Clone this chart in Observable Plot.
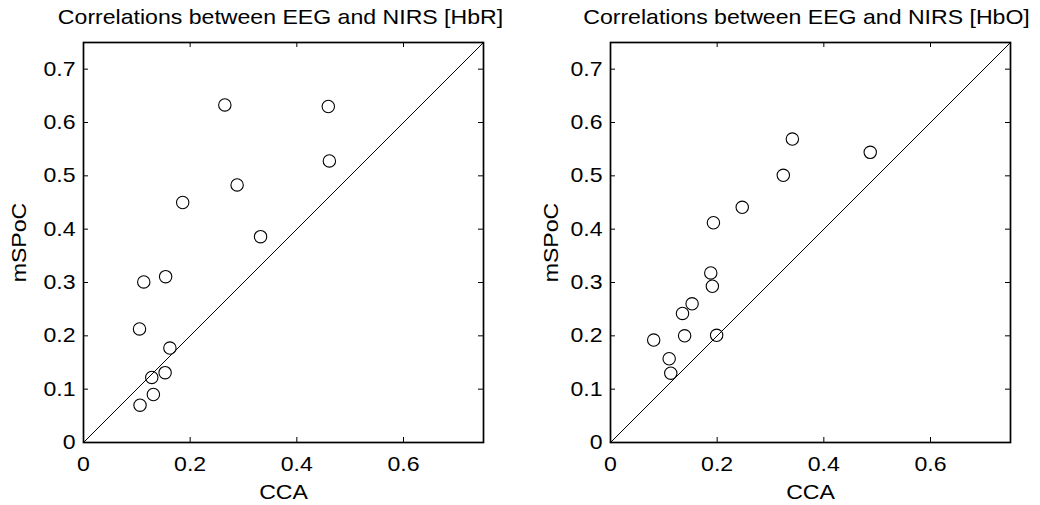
<!DOCTYPE html>
<html>
<head>
<meta charset="utf-8">
<script src="https://cdn.jsdelivr.net/npm/d3@7"></script>
<script src="https://cdn.jsdelivr.net/npm/@observablehq/plot@0.6"></script>
<style>
  html, body { margin: 0; padding: 0; background: #fff; }
  #wrap { display: flex; width: 1040px; height: 505px; }
</style>
</head>
<body>
<div id="wrap"></div>
<script>
// ---- data ----
const titles = ["Correlations between EEG and NIRS [HbR]", "Correlations between EEG and NIRS [HbO]"];
const xLabel = "CCA";
const yLabel = "mSPoC";
const xTicks = [0, 0.2, 0.4, 0.6];
const yTicks = [0, 0.1, 0.2, 0.3, 0.4, 0.5, 0.6, 0.7];
const axisDomain = [0, 0.75];
const diagonal = [0, 0.75];

const hbrCCA   = [0.265, 0.459, 0.461, 0.288, 0.186, 0.332, 0.113, 0.154, 0.105, 0.162, 0.128, 0.153, 0.131, 0.106];
const hbrMSPoC = [0.633, 0.630, 0.528, 0.483, 0.450, 0.386, 0.301, 0.311, 0.213, 0.177, 0.122, 0.131, 0.090, 0.070];
const hboCCA   = [0.341, 0.487, 0.324, 0.247, 0.193, 0.188, 0.191, 0.153, 0.135, 0.139, 0.199, 0.081, 0.110, 0.113];
const hboMSPoC = [0.569, 0.544, 0.501, 0.441, 0.412, 0.318, 0.293, 0.260, 0.242, 0.200, 0.201, 0.192, 0.157, 0.130];

const panels = [
  {title: titles[0], cca: hbrCCA, mspoc: hbrMSPoC, marginLeft: 83, marginRight: 37, yLabelDx: -64, titleDx: -3},
  {title: titles[1], cca: hboCCA, mspoc: hboMSPoC, marginLeft: 90, marginRight: 30, yLabelDx: -59, titleDx: -4}
];

const FONT = "'Liberation Sans', Arial, Helvetica, sans-serif";
const FS = 20;
const STRETCH = 1.155; // the reference's Helvetica is set wider than Arial

for (const p of panels) {
  const pts = p.cca.map((c, i) => ({cca: c, mspoc: p.mspoc[i]}));
  const chart = Plot.plot({
    width: 520,
    height: 505,
    marginTop: 42,
    marginBottom: 63,
    marginLeft: p.marginLeft,
    marginRight: p.marginRight,
    style: {fontFamily: FONT, fontSize: FS + "px", color: "#000", background: "#fff"},
    x: {domain: axisDomain, ticks: xTicks},
    y: {domain: axisDomain, ticks: yTicks},
    marks: [
      Plot.line(diagonal, {x: d => d, y: d => d, stroke: "#000", strokeWidth: 1}),
      Plot.tickX(xTicks, {x: d => d, insetTop: 395, stroke: "#000", strokeWidth: 1}),
      Plot.tickX(xTicks, {x: d => d, insetBottom: 395, stroke: "#000", strokeWidth: 1}),
      Plot.tickY(yTicks, {y: d => d, insetRight: 395, stroke: "#000", strokeWidth: 1}),
      Plot.tickY(yTicks, {y: d => d, insetLeft: 395, stroke: "#000", strokeWidth: 1}),
      Plot.frame({stroke: "#000", strokeWidth: 1.7}),
      Plot.axisX(xTicks, {tickSize: 0, tickPadding: 14, label: null, tickFormat: d => String(d), fontSize: FS}),
      Plot.axisY(yTicks, {tickSize: 0, tickPadding: 8, label: null, tickFormat: d => String(d), fontSize: FS}),
      Plot.dot(pts, {x: "cca", y: "mspoc", r: 6.2, stroke: "#000", strokeWidth: 1.1, fill: "none"}),
      Plot.text([p.title], {text: d => d, frameAnchor: "top", lineAnchor: "middle", textAnchor: "middle", dy: -25, dx: p.titleDx, fontSize: FS, fill: "#000"}),
      Plot.text([xLabel], {text: d => d, frameAnchor: "bottom", lineAnchor: "middle", textAnchor: "middle", dy: 50, fontSize: FS, fill: "#000"}),
      Plot.text([yLabel], {text: d => d, frameAnchor: "left", lineAnchor: "middle", textAnchor: "middle", dx: p.yLabelDx, rotate: -90, fontSize: FS, fill: "#000"})
    ]
  });
  // widen glyphs horizontally (along the text direction) around each anchor point
  d3.select(chart).selectAll("text").each(function() {
    const t = this.getAttribute("transform") || "";
    const x = +this.getAttribute("x") || 0, y = +this.getAttribute("y") || 0;
    this.setAttribute("transform", `${t} translate(${x},${y}) scale(${STRETCH},1) translate(${-x},${-y})`);
  });
  document.getElementById("wrap").appendChild(chart);
}
</script>
</body>
</html>
